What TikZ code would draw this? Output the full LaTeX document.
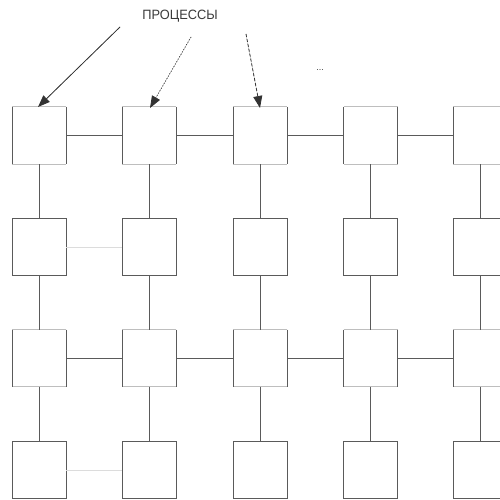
\documentclass[tikz,border=0pt]{standalone}
\usepackage{fontspec}
\setmainfont{Liberation Sans}
\usetikzlibrary{arrows.meta}
\definecolor{edgedark}{HTML}{5A5A5A}
\definecolor{edgelight}{HTML}{BEBEBE}
\definecolor{linkfaint}{HTML}{DCDCDC}
\definecolor{caption}{HTML}{3A3A3A}
\begin{document}
\begin{tikzpicture}[x=1pt,y=-1pt,
  proc/.style={minimum width=54pt,minimum height=57pt,inner sep=0pt,outer sep=0pt},
  boxfull/.style={draw=edgedark,line width=1pt},
  sidedark/.style={draw=edgedark,line width=1pt},
  sidelight/.style={draw=edgelight,line width=1pt},
  link/.style={draw=edgedark,line width=1pt},
  faintlink/.style={draw=linkfaint,line width=1pt},
  pointer/.style={line width=0.8pt,-{Triangle[length=12pt,width=9pt]}}]
\useasboundingbox (0,0) rectangle (499,500);
% grid of processes: columns and rows
\foreach \c/\x in {1/39,2/149,3/260,4/370.5,5/480}{
  \foreach \r/\y in {1/135.5,2/247,3/358,4/470}{
    \node[proc] (p\r\c) at (\x,\y) {};
  }
}
% rows 1 and 3: dark sides, light top and bottom
\foreach \r in {1,3}{
  \foreach \c in {1,...,5}{
    \draw[sidelight] (p\r\c.north west) -- (p\r\c.north east);
    \draw[sidelight] (p\r\c.south west) -- (p\r\c.south east);
    \draw[sidedark] (p\r\c.north west) -- (p\r\c.south west);
    \draw[sidedark] (p\r\c.north east) -- (p\r\c.south east);
  }
}
% rows 2 and 4: plain boxes
\foreach \r in {2,4}{
  \foreach \c in {1,...,5}{
    \draw[boxfull] (p\r\c.north west) rectangle (p\r\c.south east);
  }
}
% horizontal links
\foreach \r in {1,3}{
  \draw[link] (p\r1.east) -- (p\r2.west);
  \draw[link] (p\r2.east) -- (p\r3.west);
  \draw[link] (p\r3.east) -- (p\r4.west);
  \draw[link] (p\r4.east) -- (p\r5.west);
}
\draw[faintlink] (p21.east) -- (p22.west);
\draw[faintlink] (p41.east) -- (p42.west);
% vertical links
\foreach \c in {1,...,5}{
  \draw[link] (p1\c.south) -- (p2\c.north);
  \draw[link] (p2\c.south) -- (p3\c.north);
  \draw[link] (p3\c.south) -- (p4\c.north);
}
% caption and pointers
\node[text=caption,font=\fontsize{13.5}{15}\selectfont,inner sep=1pt,xscale=0.95] (title) at (180,16) {ПРОЦЕССЫ};
\node[text=caption,font=\fontsize{9}{10}\selectfont,inner sep=0pt] (dots) at (320,70) {...};
\coordinate (s1) at (120,27);
\coordinate (s2) at (191,37);
\coordinate (s3) at (246,34);
\coordinate (t1) at (38,107);
\coordinate (t2) at (150,108);
\coordinate (t3) at (260,108);
\draw[pointer,draw=black!80,fill=black] (s1) -- (t1);
\draw[pointer,draw=black!80,fill=black,dotted] (s2) -- (t2);
\draw[pointer,draw=black!80,fill=black,dash pattern=on 3pt off 2pt] (s3) -- (t3);
\end{tikzpicture}
\end{document}
